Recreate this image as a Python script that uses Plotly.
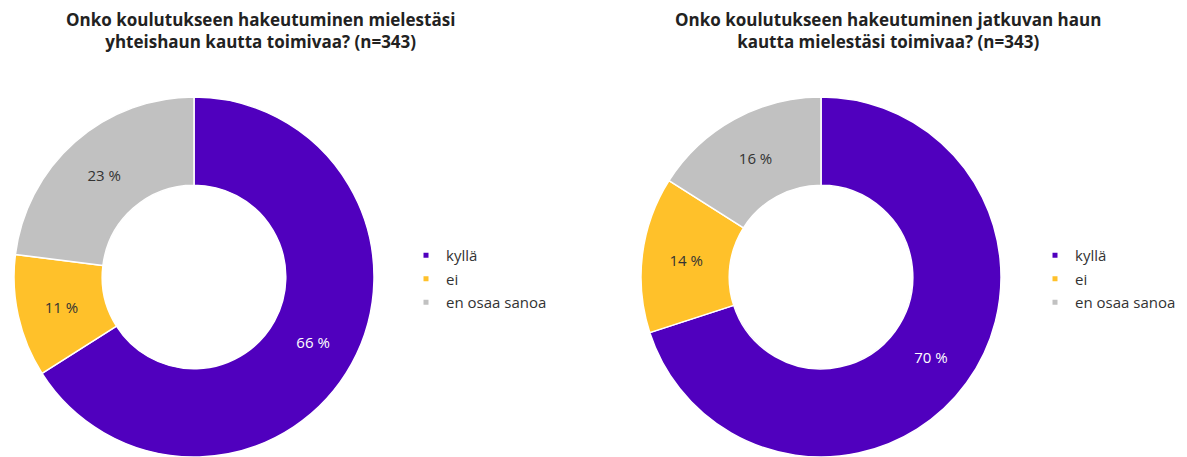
import plotly.graph_objects as go

# ---- data ----
categories = ["kyllä", "ei", "en osaa sanoa"]
left_values = [66, 11, 23]
right_values = [70, 14, 16]
colors = ["#5000BE", "#FFC12A", "#C1C1C1"]
text_colors = ["#FFFFFF", "#333333", "#333333"]
titles = [
    "Onko koulutukseen hakeutuminen mielestäsi<br>yhteishaun kautta toimivaa? (n=343)",
    "Onko koulutukseen hakeutuminen jatkuvan haun<br>kautta mielestäsi toimivaa? (n=343)",
]

# page body has an 8px margin: figure coords = page coords - 8
OFF = 8
W, H = 1187 - OFF, 457 - OFF
FONT = "Open Sans, sans-serif"


def px(v):
    return (v - OFF) / W


def py(v):
    return 1 - (v - OFF) / H


fig = go.Figure()

R = 180
pie_centers = [194, 821]
for vals, cx in zip([left_values, right_values], pie_centers):
    fig.add_trace(go.Pie(
        labels=categories, values=vals, hole=0.51, sort=False,
        direction="clockwise", rotation=0,
        marker=dict(colors=colors, line=dict(color="white", width=1.5)),
        texttemplate="%{value} %", textposition="inside",
        insidetextorientation="horizontal",
        insidetextfont=dict(color=text_colors, size=15, family=FONT),
        domain=dict(x=[px(cx - R), px(cx + R)], y=[0, 2 * R / H]),
        showlegend=False, hoverinfo="label+value",
    ))

for legend_name in ["legend", "legend2"]:
    for cat, col in zip(categories, colors):
        fig.add_trace(go.Scatter(
            x=[None], y=[None], mode="markers", name=cat,
            marker=dict(symbol="square", size=5, color=col),
            legend=legend_name, legendgroup=f"{legend_name}-{cat}",
            showlegend=True, hoverinfo="skip",
        ))

legend_common = dict(
    font=dict(family=FONT, size=15, color="#333333"),
    itemwidth=30, tracegroupgap=1, bgcolor="rgba(0,0,0,0)",
    yanchor="middle", y=py(279), xanchor="left",
)

title_centers = [260, 888]
annotations = []
for t, cx in zip(titles, title_centers):
    annotations.append(dict(
        text=t, x=px(cx), y=py(6), xref="paper", yref="paper",
        xanchor="center", yanchor="top", showarrow=False, align="center",
        font=dict(family=FONT, size=17, color="#222222", weight=700),
    ))

fig.update_layout(
    width=W, height=H,
    margin=dict(l=0, r=0, t=0, b=0),
    paper_bgcolor="white", plot_bgcolor="white",
    xaxis=dict(visible=False), yaxis=dict(visible=False),
    legend=dict(x=px(406), **legend_common),
    legend2=dict(x=px(1035), **legend_common),
    annotations=annotations,
)

fig.write_html("out.html")
